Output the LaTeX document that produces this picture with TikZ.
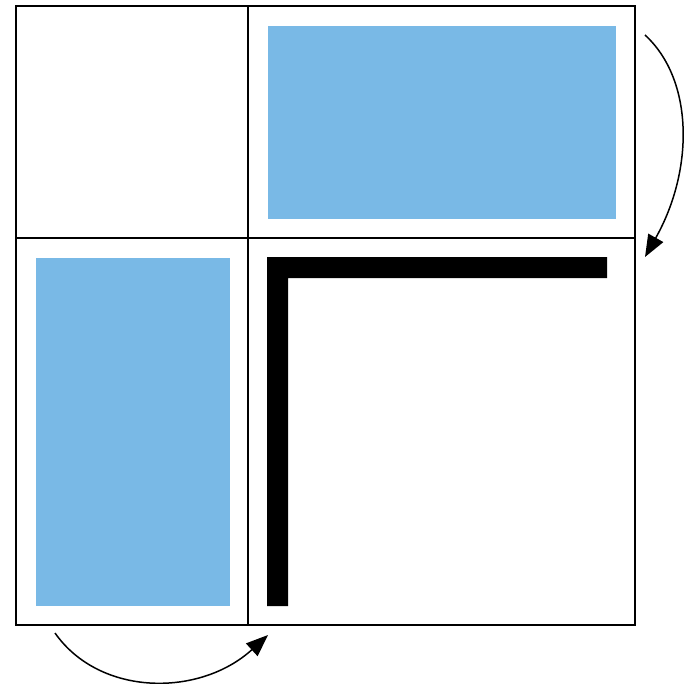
\documentclass[tikz,border=0pt]{standalone}
\usetikzlibrary{arrows.meta}
\definecolor{cellblue}{RGB}{121,185,230}
\tikzset{
  gridline/.style={draw=black,line width=1.5pt},
  bluebox/.style={fill=cellblue,draw=none},
  bendarrow/.style={draw=black,line width=1.5pt,-{Triangle[length=22pt,width=17pt]}}
}
\begin{document}
\begin{tikzpicture}[x=1pt,y=-1pt]
\useasboundingbox (0,0) rectangle (688,683);
% blue blocks
\fill[bluebox] (268,26) rectangle (616,219);
\fill[bluebox] (36,258) rectangle (230,606);
% black L
\fill[black] (267,257) -- (607,257) -- (607,278) -- (288,278) -- (288,606) -- (267,606) -- cycle;
% grid
\draw[gridline] (16,6) rectangle (635,625);
\draw[gridline] (248,6) -- (248,625);
\draw[gridline] (16,238) -- (635,238);
% arrows
\coordinate (a1) at (645,35);
\coordinate (b1) at (645,257);
\draw[bendarrow] (a1) .. controls (694,80) and (694,170) .. (b1);
\coordinate (a2) at (55,633);
\coordinate (b2) at (268,635);
\draw[bendarrow] (a2) .. controls (100,697) and (200,697) .. (b2);
\end{tikzpicture}
\end{document}
